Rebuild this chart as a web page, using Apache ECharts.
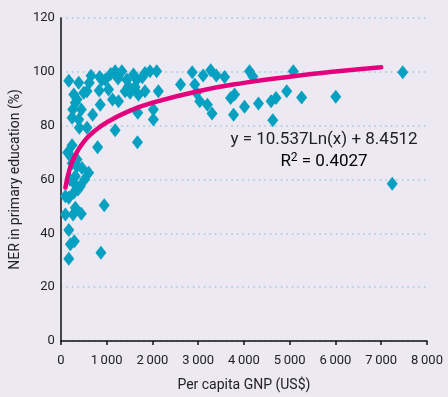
<!DOCTYPE html>
<html><head><meta charset="utf-8">
<script src="https://cdn.jsdelivr.net/npm/echarts@6/dist/echarts.min.js"></script>
<style>html,body{margin:0;padding:0;background:#ECE9F2;}#c{width:448px;height:397px;}</style>
</head><body><div id="c"></div>
<script>
// Scatter data: per capita GNP (US$) and NER in primary education (%)
const gnp = [174,391,622,572,283,354,261,448,246,391,404,572,696,848,898,970,839,1043,861,1187,1333,1130,1261,1187,804,246,209,354,463,609,317,
  1441,1587,1659,1478,1404,1513,1622,1696,1839,1948,2094,1839,1681,2022,2022,2131,1674,
  2615,2870,2926,2963,3035,3109,3274,3398,3202,3304,3578,3709,3796,3774,4013,4122,4196,4318,
  4594,4702,4631,4935,5079,5261,6007,7470,7240,
  100,174,283,376,100,267,317,448,174,296,209,174,948,876,
  426,354,283,317,500,150,250,200,520,1090,1780,660,1250];
const ner = [96.7,95.9,95.9,92.8,91.6,89.7,86,86,82.9,82.3,79.2,79.2,84.1,98.1,97.1,97.1,93.1,93.4,87.8,100.2,100.2,89.7,89.1,78.3,72,72.7,68.7,64.9,64.3,62.5,61.2,
  97.1,99,97.1,94.6,92.8,92.2,94.4,91.5,99.6,100.2,100.2,92.8,84.8,86,82.3,92.8,73.8,
  95.3,99.8,95.3,92.2,89.1,98.6,100.6,98.6,87.8,84.5,98.1,90.3,91.6,84.1,87,100.2,98.3,88.2,
  89.1,90.3,82,92.8,100.2,90.5,90.7,99.8,58.4,
  53.8,53.2,55.1,56.3,47,47,49.5,47.3,41.2,37.1,35.9,30.6,50.4,32.8,
  57.5,67.4,58.8,88.5,92.2,70,66,60,60,99.2,98,98.5,97.5];
// Logarithmic trend line
const trendX = [100,200,300,500,750,1000,1500,2000,3000,4000,5000,6000,7000];
const trendY = [57,64.3,68.5,74,78.2,81.2,85.5,88.5,92.8,95.9,98.2,100.1,101.7];
const xTicks = {min:0, max:8000, interval:1000};
const yTicks = {min:0, max:120, interval:20};

const chart = echarts.init(document.getElementById('c'));
const font = 'Roboto, "Noto Sans", sans-serif';
chart.setOption({
  backgroundColor:'#ECE9F2',
  animation:false,
  grid:{left:59,right:21,top:18,bottom:55},
  xAxis:{type:'value',min:xTicks.min,max:xTicks.max,interval:xTicks.interval,
    axisLine:{show:true,onZero:false,lineStyle:{color:'#111',width:1.5}},
    axisTick:{show:true,length:4,lineStyle:{color:'#111',width:1.5}},
    splitLine:{show:false},
    axisLabel:{color:'#222',fontSize:13,fontFamily:font,margin:13,
      formatter:v=> v>=1000 ? Math.floor(v/1000)+'\u2009000' : String(v)},
    name:'Per capita GNP (US$)',nameLocation:'middle',nameGap:37,
    nameTextStyle:{color:'#222',fontSize:14,fontFamily:font}},
  yAxis:{type:'value',min:yTicks.min,max:yTicks.max,interval:yTicks.interval,
    axisLine:{show:true,lineStyle:{color:'#111',width:1.5}},
    axisTick:{show:false},
    splitLine:{show:true,lineStyle:{color:'#9ec6dc',width:1.5,type:[1.5,4]}},
    axisLabel:{color:'#222',fontSize:13,fontFamily:font,margin:6},
    name:'NER in primary education (%)',nameLocation:'middle',nameGap:37,
    nameTextStyle:{color:'#222',fontSize:14,fontFamily:font}},
  series:[
    {type:'scatter',symbol:'diamond',symbolSize:[11,14],
     itemStyle:{color:'#06a0c1',opacity:1},
     data:gnp.map((x,i)=>[x,ner[i]]),z:2},
    {type:'line',smooth:true,showSymbol:false,
     lineStyle:{color:'#e4007c',width:4.5,cap:'round'},
     data:trendX.map((x,i)=>[x,trendY[i]]),z:3}
  ],
  graphic:[
    {type:'text',x:324,y:140,style:{text:'y = 10.537Ln(x) + 8.4512',font:'17px '+font,fill:'#222',align:'center',verticalAlign:'middle'}},
    {type:'text',x:324,y:162,style:{text:'{a|R}{s|2}{a| = 0.4027}',align:'center',verticalAlign:'middle',
      rich:{a:{fontSize:17,fontFamily:font,color:'#222',lineHeight:20},s:{fontSize:12,fontFamily:font,color:'#222',verticalAlign:'top',lineHeight:12}}}}
  ]
});
</script></body></html>
